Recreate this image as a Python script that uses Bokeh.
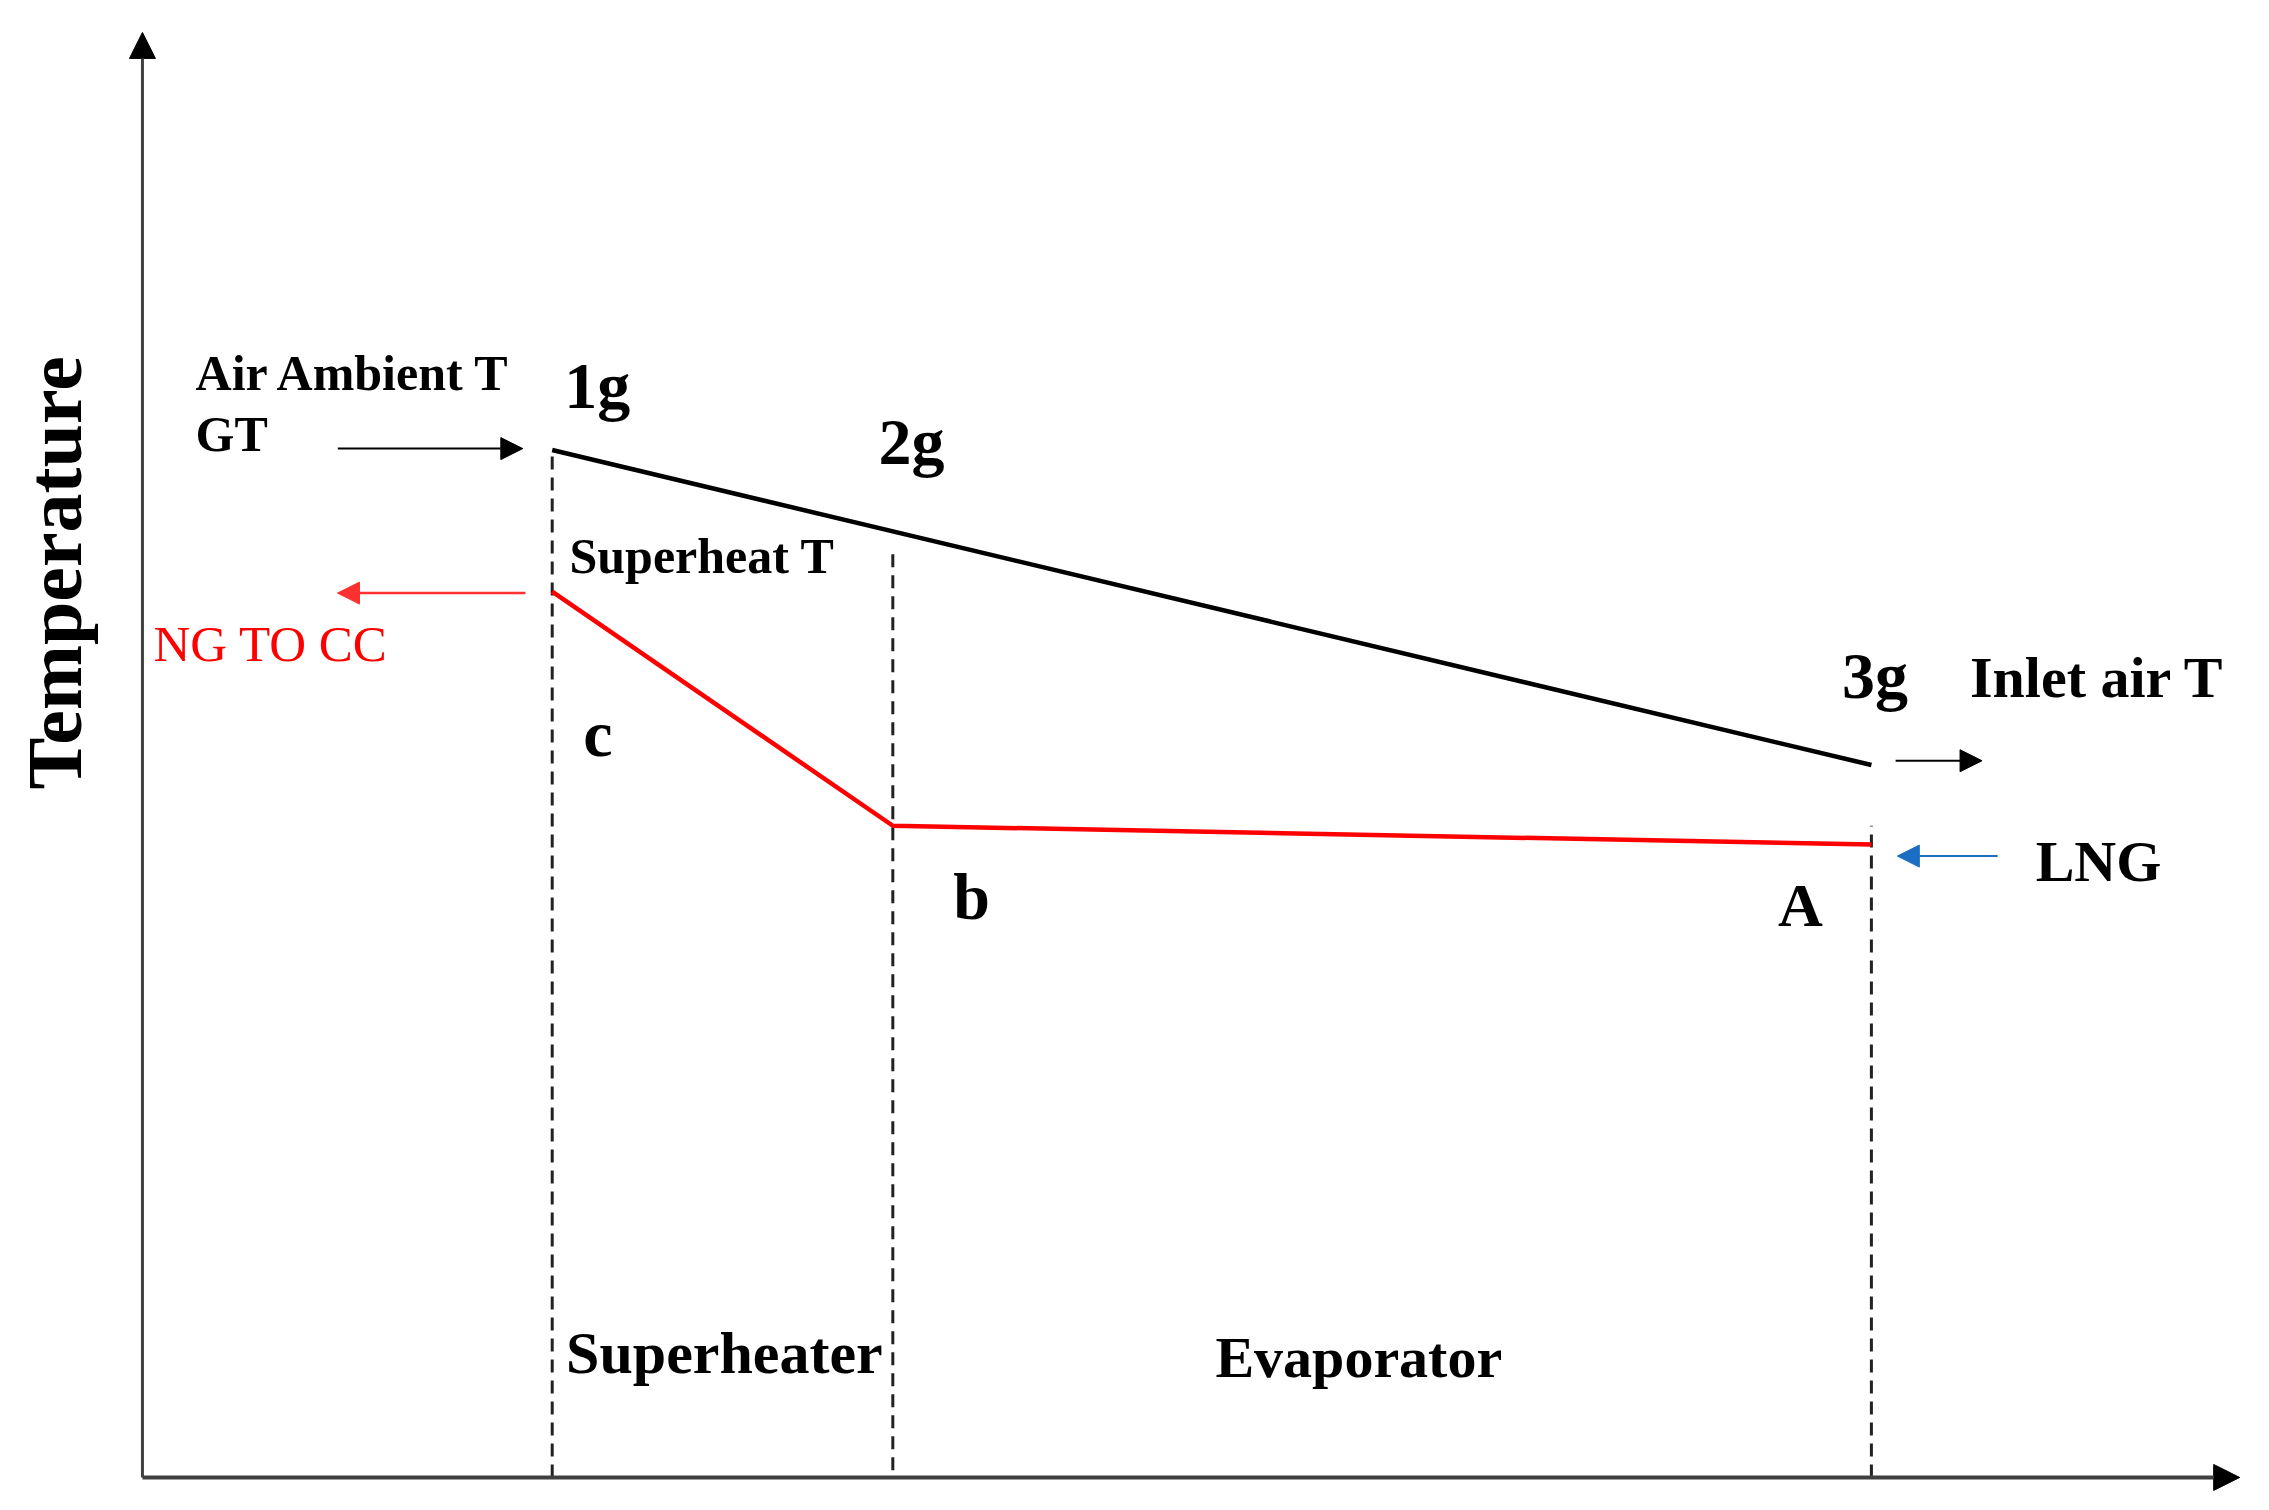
from bokeh.plotting import figure
from bokeh.models import Range1d, Arrow, NormalHead, ColumnDataSource
from bokeh.core.properties import value
from bokeh.embed import file_html
from bokeh.resources import INLINE

# ---- data (abstract units: position along exchanger, temperature) ----
stations = ["1g", "2g", "3g"]
station_x = [23.7, 43.4, 100.0]
gas_x = [23.7, 100.0]
gas_T = [71.1, 49.3]
ng_x = [23.7, 43.4, 100.0]
ng_T = [61.3, 45.1, 43.8]
divider_top = [71.1, 63.9, 45.1]
divider_bottom = [0.0, 0.5, 0.0]

axis_x_end = 121.3
axis_y_end = 100.0

# flow arrows
flow_x_start = [11.3, 22.15, 101.4, 107.3]
flow_x_end = [22.0, 11.28, 106.4, 101.5]
flow_T = [71.2, 61.2, 49.6, 43.0]
flow_color = ["#000000", "#FF3030", "#000000", "#1A6FC4"]
flow_width = [2, 2.5, 2, 2]

# labels
label_text = ["Air Ambient T", "GT", "1g", "2g", "3g", "Inlet air T", "Superheat T",
              "NG TO CC", "c", "b", "A", "LNG", "Superheater", "Evaporator"]
label_x = [3.07, 3.07, 24.4, 42.57, 98.3, 105.7, 24.7, 0.64, 25.5, 46.9, 94.6, 109.5, 24.5, 62.06]
label_T = [76.45, 72.2, 75.54, 71.7, 55.5, 55.35, 63.75, 57.7, 51.45, 40.18, 39.6, 42.62, 8.6, 8.3]
label_size = ["50px", "50px", "66px", "66px", "66px", "58px", "50px", "51px", "66px", "66px", "62px", "58px", "60px", "58px"]
label_style = ["bold"] * 7 + ["normal"] + ["bold"] * 6
label_color = ["#000000"] * 7 + ["#FF0000"] + ["#000000"] * 6

W, H = 2253, 1494
p = figure(width=W, height=H, x_range=Range1d(-8.21, 122.10), y_range=Range1d(-1.18, 102.21),
           output_backend="svg", toolbar_location=None, min_border=0,
           x_axis_type=None, y_axis_type=None)
p.outline_line_color = None
p.background_fill_color = "white"
p.border_fill_color = "white"

FONT = value("Liberation Serif")

# axes as arrows
axcol = "#404040"
p.add_layout(Arrow(end=NormalHead(size=26, fill_color="black", line_color="black"),
                   x_start=0, y_start=0, x_end=0, y_end=axis_y_end,
                   line_color=axcol, line_width=3))
p.add_layout(Arrow(end=NormalHead(size=26, fill_color="black", line_color="black"),
                   x_start=0, y_start=0, x_end=axis_x_end, y_end=0,
                   line_color=axcol, line_width=4))

# dividers
p.segment(x0=station_x, y0=divider_bottom, x1=station_x, y1=divider_top,
          line_color="#222222", line_width=3, line_dash="13 8")

# temperature profiles
p.line(gas_x, gas_T, line_color="black", line_width=4.5)
p.line(ng_x, ng_T, line_color="#FF0000", line_width=4.5)

# flow arrows
for xs, xe, t, c, w in zip(flow_x_start, flow_x_end, flow_T, flow_color, flow_width):
    p.add_layout(Arrow(end=NormalHead(size=22, fill_color=c, line_color=c),
                       x_start=xs, y_start=t, x_end=xe, y_end=t,
                       line_color=c, line_width=w))

src = ColumnDataSource(dict(x=label_x, y=label_T, text=label_text, size=label_size,
                            style=label_style, color=label_color))
p.text(x="x", y="y", text="text", source=src, text_font=FONT, text_font_size="size",
       text_font_style="style", text_color="color", text_baseline="alphabetic",
       text_align="left")

# y-axis title
p.text(x=[-5.1], y=[62.6], text=["Temperature"], angle=1.5708, text_font=FONT,
       text_font_size="78px", text_font_style="bold", text_color="black",
       text_baseline="alphabetic", text_align="center")

open("out.html", "w").write(file_html(p, INLINE))
